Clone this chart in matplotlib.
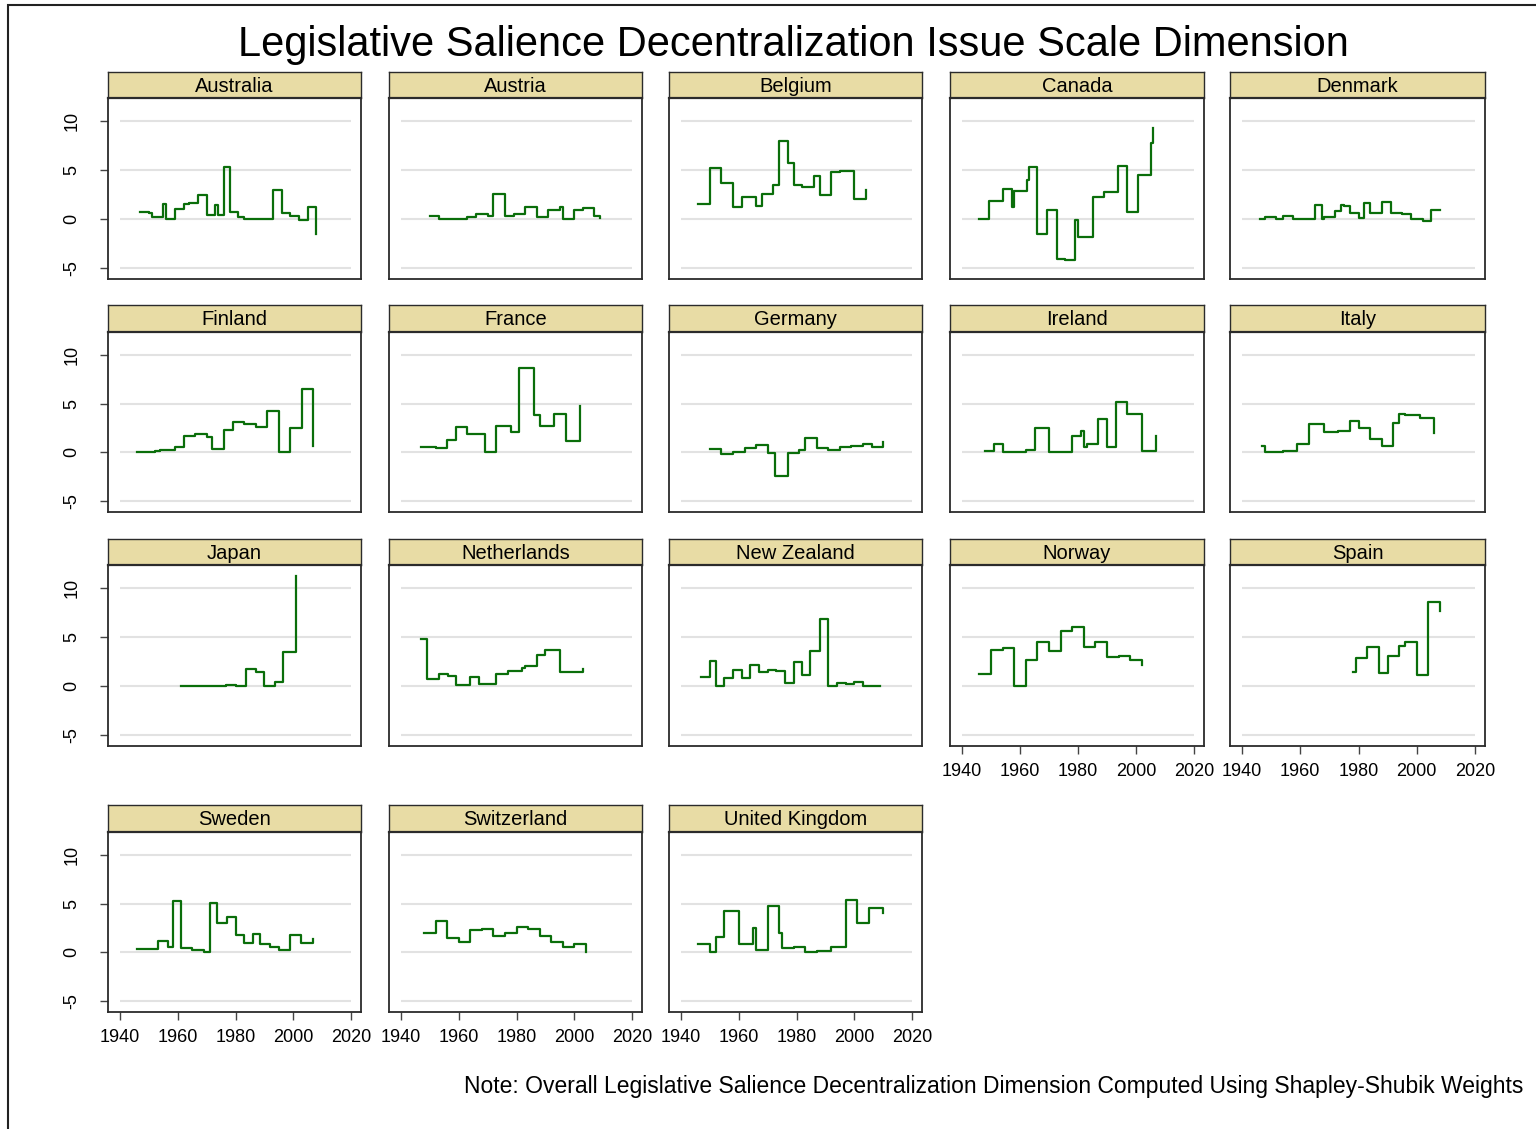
import matplotlib.pyplot as plt
from matplotlib.patches import Rectangle

plt.rcParams['font.family'] = ['Liberation Sans', 'DejaVu Sans']

countries = ["Australia", "Austria", "Belgium", "Canada", "Denmark",
             "Finland", "France", "Germany", "Ireland", "Italy",
             "Japan", "Netherlands", "New Zealand", "Norway", "Spain",
             "Sweden", "Switzerland", "United Kingdom"]

australia_years = [1947, 1950, 1951, 1955, 1956, 1959, 1962, 1964, 1967, 1970, 1973,
                   1974, 1976, 1978, 1981, 1983, 1993, 1996, 1999, 2002, 2005, 2008]
australia_vals = [0.68, 0.58, 0.2, 1.54, 0.0, 0.96, 1.54, 1.64, 2.4, 0.38, 1.37,
                  0.38, 5.3, 0.68, 0.14, 0.0, 2.9, 0.62, 0.34, -0.17, 1.23, -1.5]

austria_years = [1950, 1953, 1963, 1966, 1970, 1972, 1976, 1979, 1983, 1987, 1991,
                 1995, 1996, 2000, 2003, 2007, 2009]
austria_vals = [0.31, 0.0, 0.17, 0.51, 0.31, 2.57, 0.27, 0.45, 1.23, 0.17, 0.86,
                1.23, 0.03, 0.86, 1.06, 0.34, 0.07]

belgium_years = [1946, 1950, 1954, 1958, 1961, 1966, 1968, 1972, 1974, 1977, 1979,
                 1982, 1986, 1988, 1992, 1995, 2000, 2004]
belgium_vals = [1.54, 5.24, 3.7, 1.2, 2.19, 1.34, 2.57, 3.42, 7.91, 5.75, 3.42,
                3.22, 4.35, 2.4, 4.79, 4.9, 2.05, 2.91]

canada_years = [1946, 1949.3, 1954, 1957.4, 1958, 1962.3, 1963.2, 1966, 1969.3, 1972.9,
                1975.4, 1979, 1980, 1985, 1989, 1993.8, 1997, 2000.7, 2005, 2006]
canada_vals = [0.0, 1.78, 3.01, 1.23, 2.81, 3.94, 5.31, -1.58, 0.86, -4.08,
               -4.21, -0.07, -1.82, 2.26, 2.74, 5.38, 0.68, 4.52, 7.71, 9.25]

denmark_years = [1946, 1948, 1951.5, 1954, 1957.4, 1965, 1967.3, 1968, 1972, 1974, 1975,
                 1977, 1980, 1982, 1984, 1988, 1991, 1995, 1998, 2002, 2005, 2008]
denmark_vals = [0.0, 0.14, 0.0, 0.34, 0.0, 1.44, 0.0, 0.2, 0.75, 1.44, 1.27,
                0.62, 0.07, 1.61, 0.62, 1.71, 0.58, 0.45, 0.0, -0.27, 0.86, 0.86]

finland_years = [1946, 1952, 1954, 1959, 1962, 1966, 1970, 1972, 1976, 1979, 1983,
                 1987, 1991, 1995, 1999, 2003, 2007]
finland_vals = [0.0, 0.1, 0.21, 0.51, 1.71, 1.88, 1.54, 0.31, 2.29, 3.15, 2.91,
                2.57, 4.28, 0.0, 2.47, 6.51, 0.68]

france_years = [1947, 1952, 1956, 1959, 1963, 1969, 1973, 1978, 1981, 1986, 1988,
                1993, 1997, 2002]
france_vals = [0.51, 0.41, 1.27, 2.57, 1.88, 0.0, 2.67, 2.09, 8.66, 3.8, 2.74,
               3.97, 1.13, 4.73]

germany_years = [1950, 1954, 1958, 1962, 1966, 1970, 1972.7, 1977, 1981, 1983, 1987,
                 1991, 1995, 1999, 2003, 2006, 2010]
germany_vals = [0.31, -0.17, 0.0, 0.41, 0.75, -0.1, -2.5, -0.1, 0.24, 1.44, 0.41,
                0.21, 0.58, 0.68, 0.89, 0.58, 1.06]

ireland_years = [1948, 1951, 1954, 1962, 1965, 1970, 1978, 1981, 1982, 1983, 1987,
                 1990, 1993, 1997, 2002, 2007]
ireland_vals = [0.07, 0.79, 0.0, 0.21, 2.53, 0.0, 1.71, 2.19, 0.48, 0.86, 3.36,
                0.58, 5.14, 3.94, 0.1, 1.64]

italy_years = [1947, 1948, 1954, 1959, 1963, 1968, 1973, 1977, 1980, 1984, 1988,
               1992, 1994, 1996, 2001, 2006]
italy_vals = [0.62, 0.0, 0.07, 0.86, 2.88, 2.05, 2.16, 3.25, 2.53, 1.37, 0.68,
              3.01, 3.97, 3.8, 3.49, 1.92]

japan_years = [1961, 1976.7, 1980, 1983.6, 1987, 1990, 1993.7, 1996.6, 2001]
japan_vals = [0.0, 0.1, 0.0, 1.71, 1.44, 0.0, 0.41, 3.42, 11.23]

netherlands_years = [1947, 1948.9, 1953, 1956.4, 1959, 1964, 1967, 1973, 1977, 1982,
                     1983, 1987, 1990, 1995, 2003]
netherlands_vals = [4.79, 0.65, 1.23, 1.03, 0.1, 0.86, 0.21, 1.2, 1.54, 1.78,
                    2.05, 3.15, 3.66, 1.44, 1.68]

new_zealand_years = [1947, 1950, 1952, 1955, 1958, 1961, 1964, 1967, 1970, 1973, 1976,
                     1979, 1982, 1984.8, 1988, 1991, 1994, 1997, 2000, 2003, 2009]
new_zealand_vals = [0.92, 2.53, 0.0, 0.79, 1.61, 0.79, 2.16, 1.4, 1.58, 1.52, 0.27,
                    2.47, 1.1, 3.6, 6.78, -0.03, 0.27, 0.14, 0.38, 0.0, 0.0]

norway_years = [1946, 1950, 1954, 1958, 1962, 1966, 1970, 1974, 1978, 1982, 1986,
                1990, 1994, 1998, 2002]
norway_vals = [1.23, 3.66, 3.9, 0.0, 2.6, 4.52, 3.56, 5.65, 6.06, 3.94, 4.52,
               2.91, 3.08, 2.6, 2.16]

spain_years = [1978, 1979, 1983, 1987, 1990, 1994, 1996, 2000, 2004, 2008]
spain_vals = [1.44, 2.81, 3.97, 1.34, 3.01, 4.08, 4.45, 1.13, 8.6, 7.6]

sweden_years = [1946, 1953, 1956.6, 1958.2, 1961, 1965, 1969, 1971.2, 1973.6, 1977, 1980,
                1983, 1986, 1988.6, 1992, 1995, 1999, 2002.6, 2007]
sweden_vals = [0.34, 1.1, 0.58, 5.21, 0.41, 0.24, 0.0, 5.1, 3.01, 3.6, 1.75,
               0.96, 1.82, 0.86, 0.51, 0.21, 1.75, 0.96, 1.37]

switzerland_years = [1948, 1952, 1956, 1960, 1964, 1968, 1972, 1976, 1980, 1984, 1988,
                     1992, 1996, 2000, 2004]
switzerland_vals = [2.02, 3.25, 1.44, 1.06, 2.23, 2.4, 1.61, 2.02, 2.57, 2.33, 1.61,
                    1.06, 0.58, 0.86, 0.0]

uk_years = [1946, 1950, 1952, 1955, 1960, 1964.8, 1966, 1970, 1974, 1975, 1979,
            1983, 1987, 1992, 1997, 2001, 2005, 2010]
uk_vals = [0.86, 0.0, 1.54, 4.18, 0.86, 2.47, 0.21, 4.79, 2.02, 0.41, 0.51,
           0.0, 0.1, 0.58, 5.38, 3.01, 4.52, 4.04]

series = [
    (australia_years, australia_vals), (austria_years, austria_vals),
    (belgium_years, belgium_vals), (canada_years, canada_vals),
    (denmark_years, denmark_vals), (finland_years, finland_vals),
    (france_years, france_vals), (germany_years, germany_vals),
    (ireland_years, ireland_vals), (italy_years, italy_vals),
    (japan_years, japan_vals), (netherlands_years, netherlands_vals),
    (new_zealand_years, new_zealand_vals), (norway_years, norway_vals),
    (spain_years, spain_vals), (sweden_years, sweden_vals),
    (switzerland_years, switzerland_vals), (uk_years, uk_vals),
]

x_ticks = [1940, 1960, 1980, 2000, 2020]
y_ticks = [-5, 0, 5, 10]

W, H = 1536, 1129
fig = plt.figure(figsize=(W / 100, H / 100), dpi=100)

# pixel layout of the panel grid (strip top, plot top, plot bottom)
rows = [(72, 98, 279), (305, 332, 512), (539, 565, 746), (805, 832, 1012)]
cols = [(108, 361), (389, 642), (669, 922), (950, 1204), (1230, 1485)]
green = '#0a6e0a'
strip_col = '#e8dca5'
frame_col = '#2b2b2b'

for i, name in enumerate(countries):
    r, c = divmod(i, 5)
    st, pt, pb = rows[r]
    left, right = cols[c]
    ax = fig.add_axes([left / W, 1 - pb / H, (right - left) / W, (pb - pt) / H])
    sx = fig.add_axes([left / W, 1 - pt / H, (right - left) / W, (pt - st) / H])

    sx.set_facecolor(strip_col)
    sx.set_xticks([])
    sx.set_yticks([])
    for s in sx.spines.values():
        s.set_color(frame_col)
        s.set_linewidth(1.0)
    sx.spines['bottom'].set_linewidth(1.6)
    sx.text(0.5, 0.45, name, ha='center', va='center', fontsize=14.5, transform=sx.transAxes)

    ax.set_xlim(1935.85, 2023.45)
    ax.set_ylim(-6.15, 12.35)
    ax.hlines(y_ticks, 1940, 2020, color='#e2e2e2', lw=1.5, zorder=1)
    yrs, vals = series[i]
    ax.step(yrs, vals, where='post', color=green, lw=1.6, zorder=3)

    for s in ax.spines.values():
        s.set_color(frame_col)
        s.set_linewidth(1.3)

    bottom_panel = (r == 3) or (r == 2 and c >= 3)
    ax.set_xticks(x_ticks)
    ax.set_yticks(y_ticks)
    ax.tick_params(axis='both', direction='out', length=6, width=1.0, color='#444444',
                   labelsize=13)
    if bottom_panel:
        ax.tick_params(axis='x', pad=6.5)
    else:
        ax.tick_params(axis='x', bottom=False, labelbottom=False)
    if c == 0:
        ax.set_yticklabels([str(v) for v in y_ticks], rotation=90, va='center')
        ax.tick_params(axis='y', pad=14)
    else:
        ax.tick_params(axis='y', left=False, labelleft=False)

fig.text(793 / W, 1 - 45 / H, "Legislative Salience Decentralization Issue Scale Dimension",
         ha='center', va='center', fontsize=30)
fig.text(1523 / W, 1 - 1086 / H,
         "Note: Overall Legislative Salience Decentralization Dimension Computed Using Shapley-Shubik Weights",
         ha='right', va='center', fontsize=16.5)

fig.patches.append(Rectangle((8 / W, -0.01), 1.1, 1 - 5 / H + 0.01, transform=fig.transFigure,
                             fill=False, edgecolor='#222222', lw=1.5))

fig.savefig('out.png', dpi=100)
